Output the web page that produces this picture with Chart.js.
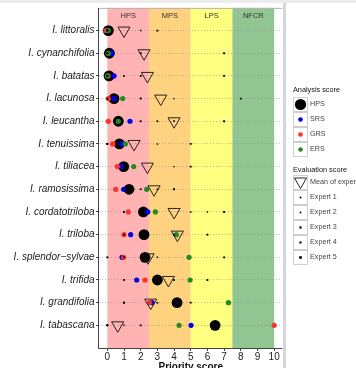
<!DOCTYPE html>
<html>
<head>
<meta charset="utf-8">
<script src="https://cdn.jsdelivr.net/npm/chart.js@4.4.1/dist/chart.umd.min.js"></script>
<style>
  html, body { margin: 0; padding: 0; background: #fff; overflow: hidden; }
  canvas { display: block; }
</style>
</head>
<body>
<canvas id="chart" width="356" height="368"></canvas>
<script>
// --- data ---
const species = [
  'I. littoralis', 'I. cynanchifolia', 'I. batatas', 'I. lacunosa', 'I. leucantha',
  'I. tenuissima', 'I. tiliacea', 'I. ramosissima', 'I. cordatotriloba', 'I. triloba',
  'I. splendor\u2212sylvae', 'I. trifida', 'I. grandifolia', 'I. tabascana'
];
const hps = [0.06, 0.12, 0.10, 0.40, 0.66, 0.72, 0.98, 1.30, 2.16, 2.20, 2.26, 3.00, 4.18, 6.46];
const srs = [0.05, 0.28, 0.40, 0.40, 1.36, 0.86, 0.88, 0.98, 2.42, 1.40, 0.88, 1.76, 2.68, 5.02];
const grs = [-0.08, 0.05, 0.05, 0.06, 0.06, 0.32, 0.60, 0.50, 1.26, 1.00, 0.98, 2.26, 2.52, 10.0];
const ers = [0.06, 0.05, 0.00, 0.92, 0.66, 1.08, 1.58, 2.36, 2.88, 4.14, 4.90, 4.96, 7.26, 4.30];
const meanExperts = [1.0, 2.2, 2.4, 3.2, 4.0, 1.6, 2.4, 2.8, 4.0, 4.2, 2.44, 3.66, 2.6, 0.62];
const expert1 = [0, 0, 0, 0, 2, 0, 1, 1, 1, 1, 0, 1, 1, 0];
const expert2 = [0, 0, 1, 2, 3, 0, 1, 2, 1, 4, 1, 3, 1, 0];
const expert3 = [0, 2, 2, 2, 4, 0, 1, 3, 5, 4, 1, 4, 3, 0];
const expert4 = [2, 2, 2, 4, 4, 3, 4, 4, 6, 6, 3, 4, 3, 1];
const expert5 = [3, 7, 7, 8, 7, 5, 5, 4, 7, 6, 7, 6, 5, 2];
const xTicks = [0, 1, 2, 3, 4, 5, 6, 7, 8, 9, 10];
const bandEdges = [0, 2.5, 5, 7.5, 10];
const bandLabels = ['HPS', 'MPS', 'LPS', 'NFCR'];
const analysisLabels = ['HPS', 'SRS', 'GRS', 'ERS'];
const evaluationLabels = ['Mean of experts', 'Expert 1', 'Expert 2', 'Expert 3', 'Expert 4', 'Expert 5'];

// --- styles ---
const FONT = "'Liberation Sans', Arial, Helvetica, sans-serif";
const bandColors = ['#FFB3B3', '#FFD280', '#FFFF80', '#91C591'];
const BLUE = '#0000F0', RED = '#FF3030', GREEN = '#228B22';

const toPoints = arr => arr.map((v, i) => ({ x: v, y: i }));

function dot(label, values, color, radius, order, style) {
  return {
    label: label,
    data: toPoints(values),
    pointStyle: style || 'circle',
    pointRadius: radius,
    backgroundColor: color,
    borderColor: color,
    borderWidth: 0,
    order: order
  };
}

const datasets = [
  {
    label: 'Mean of experts',
    data: toPoints(meanExperts),
    pointStyle: 'triangle',
    rotation: 180,
    pointRadius: 7,
    backgroundColor: 'rgba(0,0,0,0)',
    borderColor: '#111',
    borderWidth: 0.9,
    order: 1
  },
  dot('Expert 1', expert1, '#000', 1.1, 2, 'circle'),
  dot('Expert 2', expert2, '#000', 1.0, 3, 'circle'),
  dot('Expert 3', expert3, '#000', 1.1, 4, 'rect'),
  dot('Expert 4', expert4, '#000', 1.0, 5, 'rect'),
  dot('Expert 5', expert5, '#000', 1.3, 6, 'rect'),
  dot('ERS', ers, GREEN, 2.6, 7),
  dot('GRS', grs, RED, 2.6, 8),
  dot('SRS', srs, BLUE, 2.6, 9),
  dot('HPS', hps, '#000', 5.4, 10)
];

// bands, frame, band labels drawn under the grid
const bandsPlugin = {
  id: 'bands',
  beforeDraw(chart) {
    const { ctx, chartArea: a, scales: { x } } = chart;
    ctx.save();
    ctx.fillStyle = '#fff';
    ctx.fillRect(0, 0, chart.width, chart.height);
    ctx.fillStyle = '#ECECEC';
    ctx.fillRect(0, 0, chart.width, 3);
    for (let i = 0; i < bandLabels.length; i++) {
      const x0 = x.getPixelForValue(bandEdges[i]);
      const x1 = x.getPixelForValue(bandEdges[i + 1]);
      ctx.fillStyle = bandColors[i];
      ctx.fillRect(x0, a.top, x1 - x0, a.bottom - a.top);
      ctx.fillStyle = '#333';
      ctx.font = '7.5px ' + FONT;
      ctx.textAlign = 'center';
      ctx.textBaseline = 'middle';
      ctx.fillText(bandLabels[i], (x0 + x1) / 2, a.top + 8.5);
    }
    ctx.restore();
  },
  afterDraw(chart) {
    const { ctx, chartArea: a } = chart;
    ctx.save();
    // panel frame
    ctx.strokeStyle = '#B5B5B5';
    ctx.lineWidth = 1;
    ctx.beginPath();
    ctx.moveTo(a.left, a.top + 0.5); ctx.lineTo(a.right, a.top + 0.5);
    ctx.stroke();
    ctx.fillStyle = '#D6D6D6';
    ctx.fillRect(a.right + 0.5, a.top - 5, 3, chart.height);
    ctx.strokeStyle = '#444';
    ctx.beginPath();
    ctx.moveTo(a.left - 0.5, a.top); ctx.lineTo(a.left - 0.5, a.bottom + 0.5);
    ctx.lineTo(a.right, a.bottom + 0.5);
    ctx.stroke();

    // x title
    ctx.fillStyle = '#111';
    ctx.font = 'bold 10px ' + FONT;
    ctx.textAlign = 'center';
    ctx.textBaseline = 'alphabetic';
    ctx.fillText('Priority score', (a.left + a.right) / 2, 370);

    // legends
    const kx = 293, lx = 310, box = 15;
    ctx.textAlign = 'left';
    ctx.textBaseline = 'middle';
    ctx.fillStyle = '#111';
    ctx.font = '7.3px ' + FONT;
    ctx.fillText('Analysis score', kx, 90);
    ctx.fillText('Evaluation score', kx, 170);

    const drawBox = (y) => {
      ctx.fillStyle = '#fff';
      ctx.fillRect(kx, y, box, box);
      ctx.strokeStyle = '#CFCFCF';
      ctx.lineWidth = 1;
      ctx.strokeRect(kx + 0.5, y + 0.5, box - 1, box - 1);
    };
    const circle = (cx, cy, r, color) => {
      ctx.fillStyle = color;
      ctx.beginPath(); ctx.arc(cx, cy, r, 0, Math.PI * 2); ctx.fill();
    };
    const label = (text, y) => {
      ctx.fillStyle = '#444';
      ctx.font = '7.2px ' + FONT;
      ctx.fillText(text, lx, y);
    };

    const aColors = ['#000', BLUE, RED, GREEN];
    const aRadius = [5.6, 2.3, 2.3, 2.3];
    analysisLabels.forEach((t, i) => {
      const y = 97 + i * box;
      drawBox(y);
      circle(kx + box / 2, y + box / 2, aRadius[i], aColors[i]);
      label(t, y + box / 2);
    });

    evaluationLabels.forEach((t, i) => {
      const y = 175 + i * box;
      drawBox(y);
      const cx = kx + box / 2, cy = y + box / 2;
      if (i === 0) {
        ctx.strokeStyle = '#111';
        ctx.lineWidth = 0.9;
        ctx.beginPath();
        ctx.moveTo(cx - 6, cy - 4.5);
        ctx.lineTo(cx + 6, cy - 4.5);
        ctx.lineTo(cx, cy + 6);
        ctx.closePath();
        ctx.stroke();
      } else {
        const s = [0, 1.0, 0.9, 1.0, 1.1, 1.4][i];
        ctx.fillStyle = '#000';
        if (i <= 2) circle(cx, cy, s, '#000');
        else ctx.fillRect(cx - s, cy - s * (i === 3 ? 1.2 : 0.9), s * 2, s * (i === 3 ? 2.4 : 1.8));
      }
      label(t, cy);
    });
    ctx.restore();
  }
};

new Chart(document.getElementById('chart'), {
  type: 'scatter',
  data: { datasets: datasets },
  options: {
    responsive: false,
    animation: false,
    events: [],
    layout: { padding: { top: 5, right: 73.5, left: 0, bottom: 0 } },
    plugins: { legend: { display: false }, tooltip: { enabled: false } },
    scales: {
      x: {
        type: 'linear',
        min: -0.5,
        max: 10.5,
        afterBuildTicks: s => { s.ticks = xTicks.map(v => ({ value: v })); },
        afterFit: s => { s.height = 20; },
        grid: { drawOnChartArea: false, drawTicks: true, tickLength: 3, tickColor: '#444', tickWidth: 1 },
        border: { display: false },
        ticks: { color: '#222', font: { family: FONT, size: 10 }, padding: 0, maxRotation: 0, autoSkip: false }
      },
      y: {
        type: 'linear',
        min: -1,
        max: 14,
        reverse: true,
        afterBuildTicks: s => { s.ticks = species.map((_, i) => ({ value: i })); },
        afterFit: s => { s.width = 99; },
        grid: {
          color: 'rgba(110,110,110,0.55)',
          lineWidth: 0.8,
          drawTicks: true,
          tickLength: 3,
          tickColor: '#444',
          tickWidth: 1,
          tickBorderDash: []
        },
        border: { display: false, dash: [1, 2] },
        ticks: {
          color: '#222',
          font: { family: FONT, size: 10, style: 'italic' },
          padding: 1.5,
          autoSkip: false,
          callback: v => species[v] || ''
        }
      }
    }
  },
  plugins: [bandsPlugin]
});
</script>
</body>
</html>
